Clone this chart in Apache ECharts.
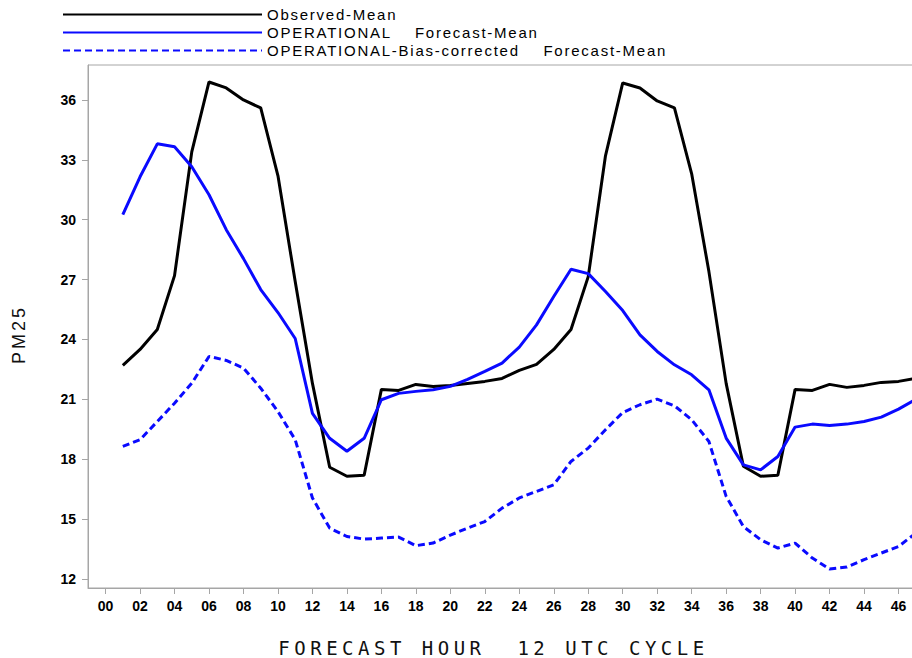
<!DOCTYPE html>
<html>
<head>
<meta charset="utf-8">
<script src="https://cdn.jsdelivr.net/npm/echarts@6/dist/echarts.min.js"></script>
<style>
  html, body { margin: 0; padding: 0; background: #fff; }
  #chart { width: 912px; height: 658px; }
  /* wider letter spacing for the legend and axis titles */
  #chart text[style*="15px"] { letter-spacing: 1.75px; }
  #chart text[style*="18px"] { letter-spacing: 3px; }
  #chart text[style*="19px"] { letter-spacing: 4.5px; }
</style>
</head>
<body>
<div id="chart"></div>
<script>
// Forecast hours (12 UTC cycle)
const hours = [];
for (let h = 1; h <= 47; h++) hours.push(h);

// PM2.5 means per forecast hour
const observedMean = [
  22.7, 23.5, 24.5, 27.2, 33.4, 36.9, 36.6, 36.0, 35.6, 32.2,
  26.9, 21.8, 17.6, 17.15, 17.2, 21.5, 21.45, 21.75, 21.65, 21.7,
  21.8, 21.9, 22.05, 22.45, 22.75, 23.5, 24.5, 27.15, 33.2, 36.85,
  36.6, 35.95, 35.6, 32.3, 27.4, 21.8, 17.65, 17.15, 17.2, 21.5,
  21.45, 21.75, 21.6, 21.7, 21.85, 21.9, 22.05
];
const operationalMean = [
  30.25, 32.15, 33.8, 33.65, 32.65, 31.25, 29.5, 28.05, 26.5, 25.35,
  24.05, 20.3, 19.05, 18.4, 19.05, 20.98, 21.3, 21.4, 21.48, 21.65,
  22.0, 22.4, 22.82, 23.62, 24.73, 26.15, 27.52, 27.3, 26.4, 25.45,
  24.23, 23.4, 22.73, 22.23, 21.48, 19.06, 17.72, 17.47, 18.14, 19.61,
  19.76, 19.69, 19.76, 19.89, 20.11, 20.51, 21.0
];
const biasCorrectedMean = [
  18.64, 18.98, 19.89, 20.81, 21.81, 23.15, 22.95, 22.57, 21.56, 20.39,
  18.98, 16.06, 14.55, 14.13, 14.0, 14.05, 14.1, 13.67, 13.8, 14.2,
  14.55, 14.88, 15.55, 16.06, 16.39, 16.72, 17.89, 18.56, 19.48, 20.34,
  20.73, 21.01, 20.68, 19.98, 18.89, 16.14, 14.63, 13.97, 13.55, 13.8,
  13.05, 12.5, 12.6, 12.97, 13.3, 13.63, 14.3
];

// Axis tick positions
const xTicks = [];
for (let h = 0; h <= 46; h += 2) xTicks.push(h);
const yTicks = [12, 15, 18, 21, 24, 27, 30, 33, 36];

const seriesNames = [
  'Observed-Mean',
  'OPERATIONAL    Forecast-Mean',
  'OPERATIONAL-Bias-corrected    Forecast-Mean'
];

const pair = (vals) => hours.map((h, i) => [h, vals[i]]);

const frameColor = '#a6a6a6';
const chart = echarts.init(document.getElementById('chart'), null, { renderer: 'svg' });

chart.setOption({
  animation: false,
  backgroundColor: '#ffffff',
  legend: {
    orient: 'vertical',
    left: 62,
    top: 7,
    padding: 0,
    itemWidth: 199,
    itemHeight: 14,
    itemGap: 3,
    selectedMode: false,
    itemStyle: { opacity: 0 },
    textStyle: { fontFamily: 'Liberation Sans', fontSize: 15, color: '#000' },
    data: seriesNames
  },
  grid: {
    left: 88,
    top: 65,
    bottom: 70,
    right: -21,
    show: true,
    borderColor: frameColor,
    borderWidth: 1,
    containLabel: false,
    outerBoundsMode: 'none'
  },
  xAxis: {
    type: 'value',
    min: -1.02,
    max: 48,
    name: 'FORECAST HOUR  12 UTC CYCLE',
    nameLocation: 'middle',
    nameGap: 50,
    nameTextStyle: {
      fontFamily: 'DejaVu Sans Mono',
      fontSize: 19,
      color: '#111',
      padding: [0, 34, 0, 0]
    },
    axisLine: { show: true, onZero: false, lineStyle: { color: frameColor, width: 1 } },
    axisTick: {
      show: true,
      length: 6,
      customValues: xTicks,
      lineStyle: { color: frameColor, width: 1 }
    },
    axisLabel: {
      customValues: xTicks,
      margin: 11,
      fontFamily: 'Liberation Sans',
      fontWeight: 'bold',
      fontSize: 14,
      color: '#000',
      formatter: (v) => String(v).padStart(2, '0')
    },
    splitLine: { show: false }
  },
  yAxis: {
    type: 'value',
    min: 11.55,
    max: 37.75,
    name: 'PM25',
    nameLocation: 'middle',
    nameRotate: 90,
    nameGap: 60,
    nameTextStyle: {
      fontFamily: 'Liberation Sans',
      fontSize: 18,
      color: '#111',
      padding: [0, 16, 0, 0]
    },
    axisLine: { show: true, onZero: false, lineStyle: { color: frameColor, width: 1 } },
    axisTick: {
      show: true,
      length: 6,
      customValues: yTicks,
      lineStyle: { color: frameColor, width: 1 }
    },
    axisLabel: {
      customValues: yTicks,
      margin: 12,
      fontFamily: 'Liberation Sans',
      fontWeight: 'bold',
      fontSize: 14,
      color: '#000'
    },
    splitLine: { show: false }
  },
  series: [
    {
      name: seriesNames[0],
      type: 'line',
      symbol: 'none',
      data: pair(observedMean),
      lineStyle: { color: '#000000', width: 3 },
      itemStyle: { color: '#000000' }
    },
    {
      name: seriesNames[1],
      type: 'line',
      symbol: 'none',
      data: pair(operationalMean),
      lineStyle: { color: '#0a0aff', width: 3 },
      itemStyle: { color: '#0a0aff' }
    },
    {
      name: seriesNames[2],
      type: 'line',
      symbol: 'none',
      data: pair(biasCorrectedMean),
      lineStyle: { color: '#0a0aff', width: 3, type: [7, 4] },
      itemStyle: { color: '#0a0aff' }
    }
  ]
});
</script>
</body>
</html>
